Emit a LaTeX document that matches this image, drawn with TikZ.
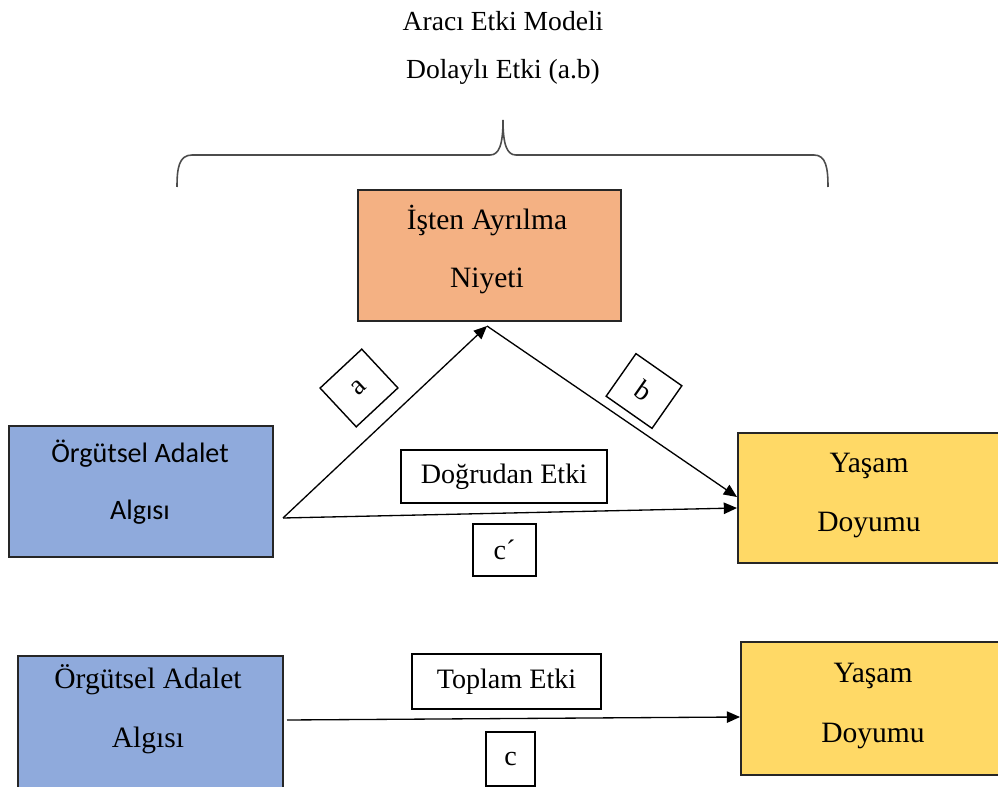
\documentclass[tikz,border=0pt]{standalone}
\usepackage{fontspec}
\setmainfont{Liberation Serif}
\newfontfamily\calfont{Carlito}
\usetikzlibrary{arrows.meta}
\definecolor{orangefill}{HTML}{F4B183}
\definecolor{bluefill}{HTML}{8FAADC}
\definecolor{yellowfill}{HTML}{FFD966}
\begin{document}
\begin{tikzpicture}[x=0.02cm,y=-0.02cm,
  box/.style={draw=black!85, line width=0.8pt, inner sep=0pt},
  boxtext/.style={anchor=base, inner sep=0pt, font=\fontsize{16.8}{20}\selectfont},
  lbl/.style={draw=black, line width=0.8pt, fill=white, inner sep=0pt, font=\fontsize{16}{19}\selectfont},
  arr/.style={line width=0.75pt, -{Triangle[length=7.5pt,width=6.5pt]}},
  brace/.style={draw=black!70, line width=0.9pt},
  title/.style={anchor=base, inner sep=0pt, font=\fontsize{15.7}{19}\selectfont}]
\useasboundingbox (0,0) rectangle (998,787);
\clip (0,0) rectangle (998,787);

% headings
\node[title] (t1) at (503,31) {Aracı Etki Modeli};
\node[title] (t2) at (503,79) {Dolaylı Etki (a.b)};

% curly brace over the mediation path
\draw[brace] (177,187) .. controls (177,168) and (179,155) .. (192,155) -- (490,155)
  .. controls (499,155) and (503,145) .. (503,120)
  .. controls (503,145) and (507,155) .. (516,155) -- (814,155)
  .. controls (826,155) and (828,168) .. (828,187);

% variable boxes
\node[box, fill=orangefill, minimum width=5.26cm, minimum height=2.62cm] (ni) at (489.5,255.5) {};
\node[boxtext] (ni1) at (487,230) {İşten Ayrılma};
\node[boxtext] (ni2) at (487,288) {Niyeti};

\node[box, fill=bluefill, minimum width=5.28cm, minimum height=2.62cm] (oa) at (141,491.5) {};
\node[boxtext, font=\calfont\fontsize{16}{19}\selectfont] (oa1) at (140,462) {Örgütsel Adalet};
\node[boxtext, font=\calfont\fontsize{16}{19}\selectfont] (oa2) at (140,519) {Algısı};

\node[box, fill=yellowfill, minimum width=5.6cm, minimum height=2.6cm] (yd) at (878,498) {};
\node[boxtext] (yd1) at (869,472) {Yaşam};
\node[boxtext] (yd2) at (869,531) {Doyumu};

\node[box, fill=bluefill, minimum width=5.3cm, minimum height=2.72cm] (ob) at (150.5,724) {};
\node[boxtext] (ob1) at (148,688) {Örgütsel Adalet};
\node[boxtext] (ob2) at (148,747) {Algısı};

\node[box, fill=yellowfill, minimum width=5.6cm, minimum height=2.66cm] (ye) at (881,708.5) {};
\node[boxtext] (ye1) at (873,682) {Yaşam};
\node[boxtext] (ye2) at (873,742) {Doyumu};

% path end points
\coordinate (s1) at (283,518);
\coordinate (ap) at (487,326);
\coordinate (e1) at (737,497);
\coordinate (e2) at (737,508);
\coordinate (s2) at (287,720);
\coordinate (e3) at (740,717);

\draw[arr] (s1) -- (ap);
\draw[arr] (ap) -- (e1);
\draw[arr] (s1) -- (e2);
\draw[arr] (s2) -- (e3);

% path labels
\node[lbl, rotate=43, minimum width=1.14cm, minimum height=1.06cm] (la) at (359,388) {a};
\node[lbl, rotate=-35, minimum width=1.12cm, minimum height=1.04cm] (lb) at (644,391) {b};
\node[lbl, minimum width=4.12cm, minimum height=1.06cm] (de) at (504,476.5) {Doğrudan Etki};
\node[lbl, minimum width=1.26cm, minimum height=1.04cm] (cp) at (504.5,550) {c´};
\node[lbl, minimum width=3.78cm, minimum height=1.1cm] (te) at (506.5,681.5) {Toplam Etki};
\node[lbl, minimum width=0.98cm, minimum height=1.08cm] (lc) at (510.5,759) {c};
\end{tikzpicture}
\end{document}
